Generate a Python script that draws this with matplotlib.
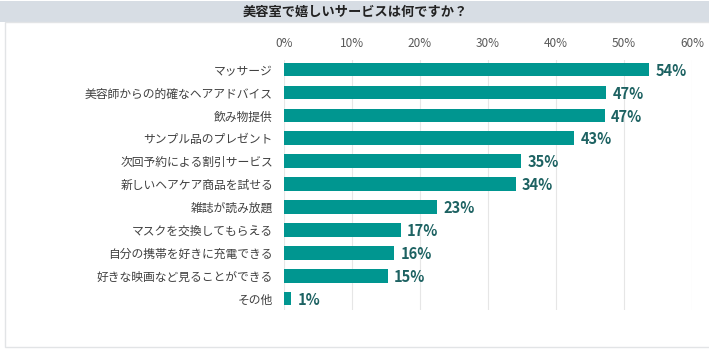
import matplotlib.pyplot as plt
from matplotlib.patches import Rectangle

plt.rcParams['font.family'] = ['Noto Sans CJK JP', 'DejaVu Sans']

categories = ['マッサージ', '美容師からの的確なヘアアドバイス', '飲み物提供', 'サンプル品のプレゼント',
              '次回予約による割引サービス', '新しいヘアケア商品を試せる', '雑誌が読み放題',
              'マスクを交換してもらえる', '自分の携帯を好きに充電できる', '好きな映画など見ることができる', 'その他']
values = [53.7, 47.4, 47.2, 42.7, 34.9, 34.1, 22.5, 17.2, 16.2, 15.3, 1.1]
labels = ['54%', '47%', '47%', '43%', '35%', '34%', '23%', '17%', '16%', '15%', '1%']
ticks = [0, 10, 20, 30, 40, 50, 60]

W, H = 709, 356
fig = plt.figure(figsize=(W / 100, H / 100), dpi=100)

# title band and frame (behind the axes)
fig.patches.append(Rectangle((0, 1 - 22 / H), 1, 21 / H, transform=fig.transFigure,
                             facecolor='#d7dde4', edgecolor='none', zorder=-2))
fig.patches.append(Rectangle((5 / W, 1 - 347 / H), 1, 325 / H, transform=fig.transFigure,
                             facecolor='white', edgecolor='#e2e4e6', lw=1, zorder=-1))
fig.text(355 / W, 1 - 12 / H, '美容室で嬉しいサービスは何ですか？', ha='center', va='center',
         fontsize=9.5, fontweight='bold', color='#222222')

ax = fig.add_axes([284 / W, 1 - 310 / H, 408 / W, 250 / H])
ax.set_facecolor('none')
y = list(range(len(categories)))
ax.barh(y, values, height=0.6, color='#009690', zorder=2)
for yi, v, lab in zip(y, values, labels):
    ax.text(v + 0.9, yi + 0.05, lab, va='center', ha='left', fontsize=10.5, fontweight='bold',
            color='#1d6262')

ax.set_xlim(0, 60)
ax.set_ylim(10.5, -0.42)
ax.set_xticks(ticks)
ax.set_xticklabels([f'{t}%' for t in ticks])
ax.xaxis.tick_top()
ax.tick_params(axis='x', length=0, pad=7, labelsize=8.5, labelcolor='#595959')
ax.set_yticks(y)
ax.set_yticklabels(categories)
ax.tick_params(axis='y', length=0, pad=8, labelsize=8.5, labelcolor='#404040')
ax.grid(axis='x', color='#e6e6e6', lw=0.8, zorder=0)
for s in ax.spines.values():
    s.set_visible(False)

fig.savefig('out.png', dpi=100)
